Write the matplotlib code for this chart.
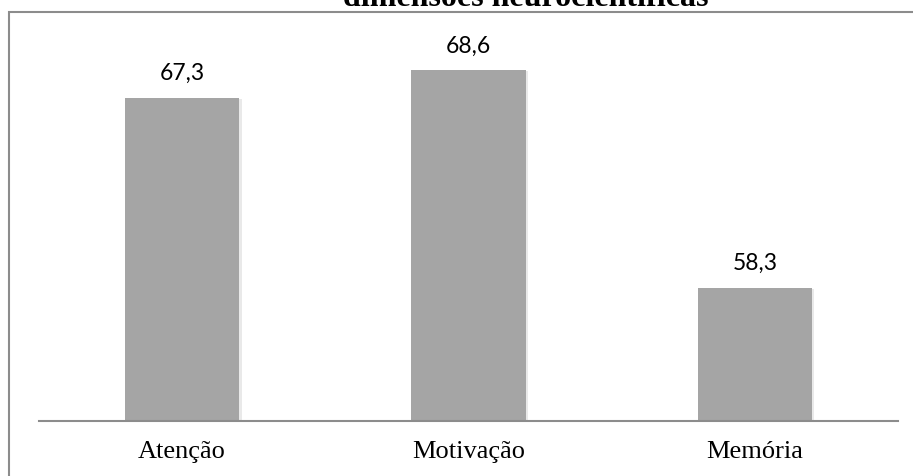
import matplotlib
matplotlib.use('Agg')
import matplotlib.pyplot as plt
import matplotlib.patheffects as pe
from matplotlib.patches import Rectangle

categories = ['Atenção', 'Motivação', 'Memória']
values = [67.3, 68.6, 58.3]
title = 'dimensões neurocientíficas'


def main():
    W, H = 913, 476
    fig = plt.figure(figsize=(W / 100, H / 100), dpi=100)
    fig.set_facecolor('white')

    # outer chart border (right and bottom edges fall outside the picture)
    fig.patches.append(Rectangle((9 / W, -0.2), 1.2, (H - 12) / H + 0.2,
                                 transform=fig.transFigure, fill=False,
                                 edgecolor='#8c8c8c', linewidth=1.5))

    ax = fig.add_axes([39 / W, (H - 420.5) / H, 859 / W, 401.1 / H])
    x = range(len(categories))
    bars = ax.bar(x, values, width=0.4, color='#a5a5a5', zorder=2)
    for b in bars:
        b.set_path_effects([pe.SimplePatchShadow(offset=(1.5, -1), shadow_rgbFace='#888888', alpha=0.18),
                            pe.Normal()])

    ax.set_xlim(-0.5, 2.5)
    ax.set_ylim(52, 71)

    for xi, v in zip(x, values):
        ax.annotate(f'{v:.1f}'.replace('.', ','), (xi, v), xytext=(0, 12.7),
                    textcoords='offset points', ha='center', va='baseline',
                    fontsize=16.5, family='Lato', color='black')

    ax.set_xticks(list(x))
    ax.set_xticklabels(categories, family='Liberation Serif', fontsize=19)
    ax.tick_params(axis='x', length=0, pad=15)
    ax.set_yticks([])
    for s in ['top', 'right', 'left']:
        ax.spines[s].set_visible(False)
    ax.spines['bottom'].set_color('#8c8c8c')
    ax.spines['bottom'].set_linewidth(1.5)

    fig.text(526 / W, 1 - 6 / H, title, ha='center', va='baseline',
             family='Liberation Serif', fontweight='bold', fontsize=23)

    fig.savefig('out.png', dpi=100)


if __name__ == '__main__':
    main()
